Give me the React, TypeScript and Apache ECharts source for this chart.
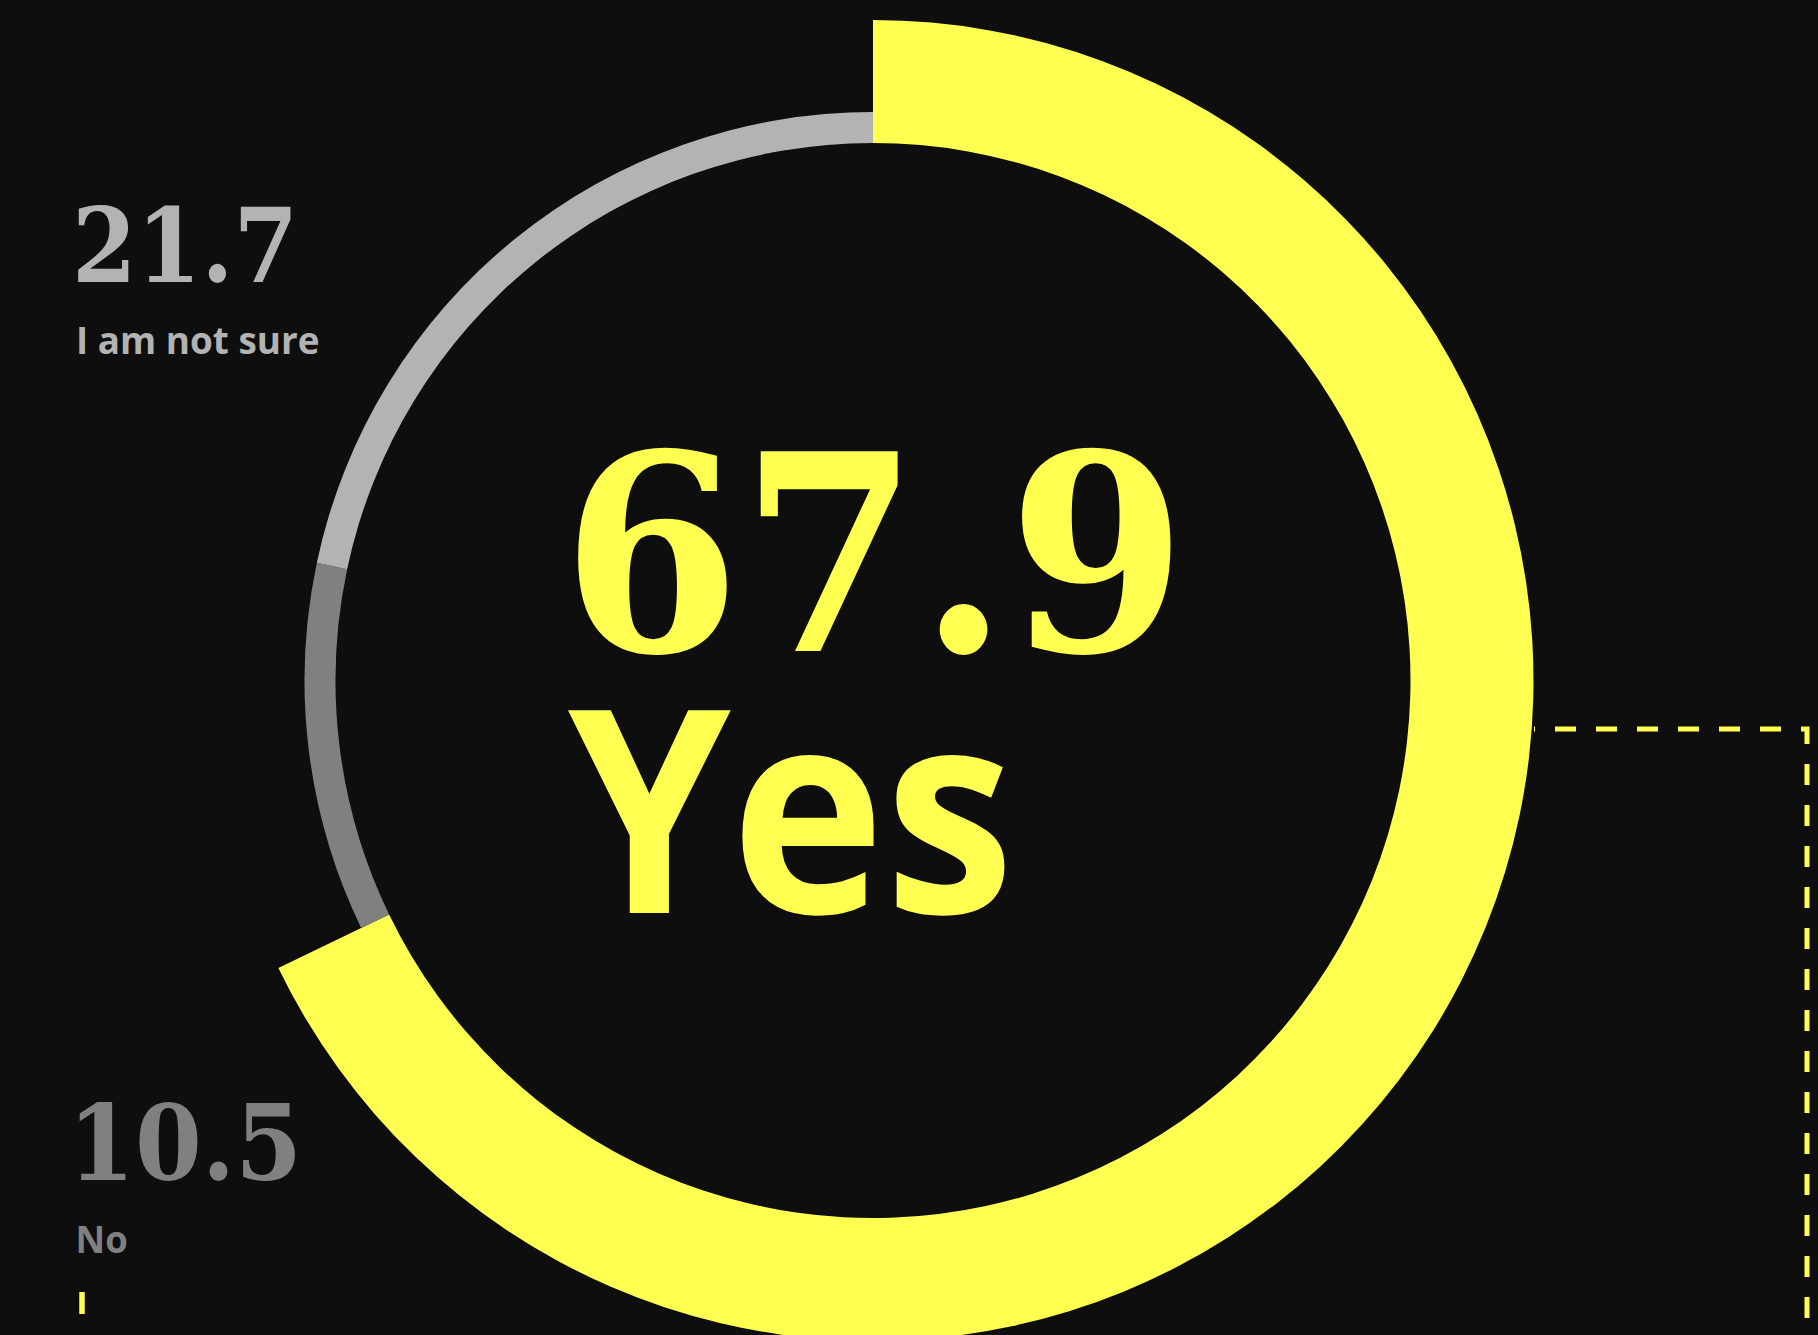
import React, { useEffect, useRef } from "react";
import * as echarts from "echarts";

const categories = ["Yes", "No", "I am not sure"];
const values = [67.9, 10.5, 21.7];
const labelText = ["67.9", "10.5", "21.7"];

const YELLOW = "#ffff52";
const GRAY_DARK = "#808080";
const GRAY_LIGHT = "#b3b3b3";
const BG = "#0e0e0e";

const SERIF = '"DejaVu Serif", "Liberation Serif", serif';
const SANS = '"Open Sans", "Noto Sans", sans-serif';

export default function App() {
  const ref = useRef<HTMLDivElement>(null);

  useEffect(() => {
    document.body.style.margin = "0";
    document.body.style.background = BG;
    const chart = echarts.init(ref.current!, undefined, { renderer: "svg" });
    const cx = 873;
    const cy = 680.5;

    const outerData = categories.map((name, i) => ({
      name,
      value: values[i],
      itemStyle: { color: i === 0 ? YELLOW : "transparent" },
    }));
    const grayData = categories.map((name, i) => ({
      name,
      value: values[i],
      itemStyle: {
        color: i === 0 ? "transparent" : i === 1 ? GRAY_DARK : GRAY_LIGHT,
      },
    }));

    const txt = (
      text: string,
      x: number,
      y: number,
      font: string,
      fill: string,
      scaleX: number
    ) => ({
      type: "text",
      x,
      y,
      scaleX,
      silent: true,
      style: {
        text,
        x: 0,
        y: 0,
        font,
        fill,
        align: "left",
        verticalAlign: "middle",
      },
    });

    chart.setOption({
      animation: false,
      backgroundColor: BG,
      series: [
        {
          type: "pie",
          silent: true,
          center: [cx, cy],
          radius: [537.5, 660.5],
          startAngle: 90,
          clockwise: true,
          label: { show: false },
          labelLine: { show: false },
          emphasis: { disabled: true },
          itemStyle: { borderWidth: 0 },
          data: outerData,
        },
        {
          type: "pie",
          silent: true,
          center: [cx, cy],
          radius: [537.5, 568.5],
          startAngle: 90,
          clockwise: true,
          label: { show: false },
          labelLine: { show: false },
          emphasis: { disabled: true },
          itemStyle: { borderWidth: 0 },
          data: grayData,
        },
      ],
      graphic: [
        txt(labelText[0], 562, 555, `bold 274px ${SERIF}`, YELLOW, 0.936),
        txt(categories[0], 568, 803, `bold 284px ${SANS}`, YELLOW, 0.918),
        txt(labelText[2], 72, 246, `bold 102px ${SERIF}`, GRAY_LIGHT, 0.91),
        txt(categories[2], 76, 339, `bold 38px ${SANS}`, GRAY_LIGHT, 0.97),
        txt(labelText[1], 68, 1144, `bold 104px ${SERIF}`, GRAY_DARK, 0.925),
        txt(categories[1], 75.5, 1238, `bold 38px ${SANS}`, GRAY_DARK, 0.96),
        {
          type: "polyline",
          silent: true,
          shape: {
            points: [
              [1534, 729],
              [1807, 729],
              [1807, 1400],
            ],
          },
          style: {
            stroke: YELLOW,
            fill: null,
            lineWidth: 5,
            lineDash: [21, 20],
            lineDashOffset: 20,
          },
        },
        {
          type: "line",
          silent: true,
          shape: { x1: 82, y1: 1292, x2: 82, y2: 1314 },
          style: { stroke: YELLOW, lineWidth: 5.5 },
        },
      ],
    });

    return () => chart.dispose();
  }, []);

  return (
    <div
      ref={ref}
      style={{
        position: "absolute",
        left: 0,
        top: 0,
        width: 1818,
        height: 1335,
        background: BG,
      }}
    />
  );
}
